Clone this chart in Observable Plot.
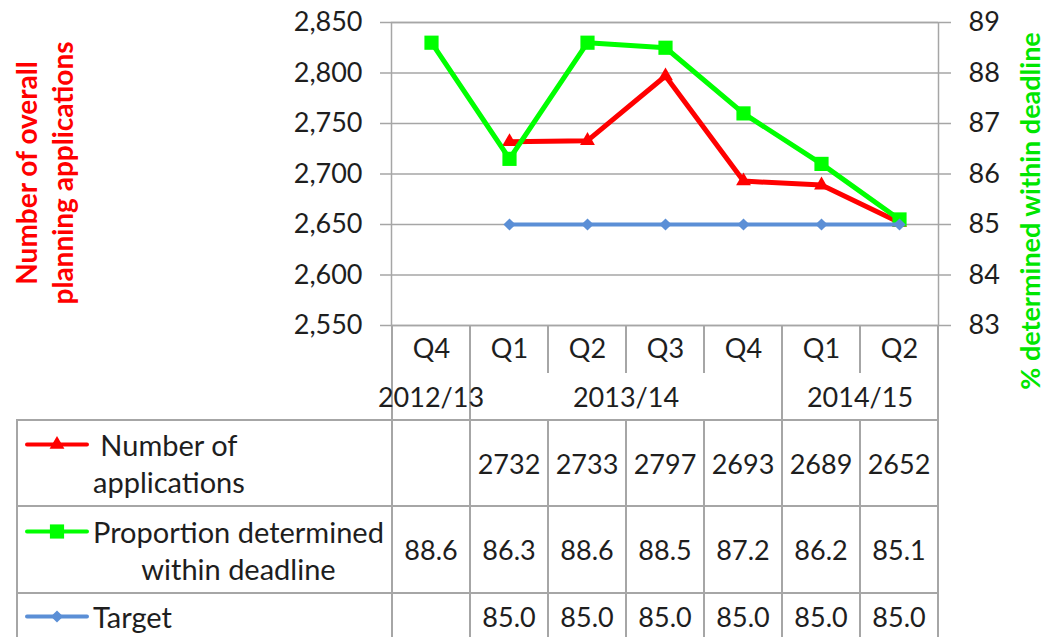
<!DOCTYPE html>
<html>
<head>
<meta charset="utf-8">
<script src="https://cdn.jsdelivr.net/npm/d3@7"></script>
<script src="https://cdn.jsdelivr.net/npm/@observablehq/plot@0.6"></script>
<style>
  body { margin: 0; background: #fff; }
  #wrap { position: relative; width: 1045px; height: 637px; overflow: hidden; font-family: Lato, sans-serif; color: #1e1e1e; }
  #wrap > svg { position: absolute; left: 0; top: 0; }
  .ln { position: absolute; background: #a6a6a6; }
  .cell { position: absolute; display: flex; align-items: center; justify-content: center; white-space: nowrap; font-size: 27px; }
  .leg { position: absolute; display: flex; align-items: center; }
  .legin { display: flex; align-items: flex-start; }
  .legtxt { font-size: 29px; line-height: 37px; text-align: center; white-space: pre; margin-left: 4px; }
</style>
</head>
<body>
<div id="wrap"></div>
<script>
// ---- data ----
const quarters = ["Q4", "Q1", "Q2", "Q3", "Q4", "Q1", "Q2"];
const years = ["2012/13", "2013/14", "2013/14", "2013/14", "2013/14", "2014/15", "2014/15"];
const applications = [null, 2732, 2733, 2797, 2693, 2689, 2652];
const proportion = [88.6, 86.3, 88.6, 88.5, 87.2, 86.2, 85.1];
const target = [null, 85.0, 85.0, 85.0, 85.0, 85.0, 85.0];
const leftTicks = [2550, 2600, 2650, 2700, 2750, 2800, 2850];
const rightTicks = [83, 84, 85, 86, 87, 88, 89];
const seriesNames = ["Number of\napplications", "Proportion determined\nwithin deadline", "Target"];
const leftTitle = "Number of overall\nplanning applications";
const rightTitle = "% determined within deadline";

// ---- styles ----
const RED = "#ff0000", GREEN = "#00ff00", GREEN_T = "#00e600", BLUE = "#5b8fd6";
const GRID = "#a6a6a6", TEXT = "#1e1e1e";

// ---- helpers ----
const ids = quarters.map((q, i) => `${years[i]} ${q}`);
const L = [leftTicks[0], leftTicks[leftTicks.length - 1]];
const R = [rightTicks[0], rightTicks[rightTicks.length - 1]];
const toL = p => L[0] + (p - R[0]) * (L[1] - L[0]) / (R[1] - R[0]);
const fromL = v => R[0] + (v - L[0]) * (R[1] - R[0]) / (L[1] - L[0]);

const rowsApp = ids.map((id, i) => ({id, v: applications[i]})).filter(d => d.v != null);
const rowsProp = ids.map((id, i) => ({id, v: proportion[i] == null ? null : toL(proportion[i])})).filter(d => d.v != null);
const rowsTarget = ids.map((id, i) => ({id, v: target[i] == null ? null : toL(target[i])})).filter(d => d.v != null);

const series = [
  {name: seriesNames[0], values: applications, fmt: d3.format("d"), color: RED, symbol: "triangle", r: 5.5},
  {name: seriesNames[1], values: proportion, fmt: d3.format(".1f"), color: GREEN, symbol: "square", r: 8},
  {name: seriesNames[2], values: target, fmt: d3.format(".1f"), color: BLUE, symbol: "diamond2", r: 5.5}
];

const plot = Plot.plot({
  width: 1045,
  height: 637,
  marginLeft: 391,
  marginRight: 107,
  marginTop: 22,
  marginBottom: 312,
  style: {fontFamily: "Lato, sans-serif", fontSize: "27px", color: TEXT, background: "transparent", overflow: "visible"},
  x: {type: "point", domain: ids, padding: 0.5},
  y: {domain: L},
  marks: [
    Plot.gridY(leftTicks, {stroke: GRID, strokeOpacity: 1, strokeWidth: 1.5}),
    Plot.frame({stroke: GRID, strokeWidth: 1.5}),
    Plot.axisY(leftTicks, {anchor: "left", tickSize: 11, tickPadding: 18, tickFormat: d3.format(","),
      stroke: GRID, strokeWidth: 1.5, fill: TEXT, fontSize: 27, label: null}),
    Plot.axisY(rightTicks.map(toL), {anchor: "right", tickSize: 12, tickPadding: 18,
      tickFormat: d => d3.format("d")(Math.round(fromL(d))),
      stroke: GRID, strokeWidth: 1.5, fill: TEXT, fontSize: 27, label: null}),
    Plot.axisX({tickSize: 0, tickPadding: 13, tickFormat: d => quarters[ids.indexOf(d)], fill: TEXT, fontSize: 27, label: null}),
    Plot.line(rowsApp, {x: "id", y: "v", stroke: RED, strokeWidth: 5}),
    Plot.dot(rowsApp, {x: "id", y: "v", symbol: "triangle", r: 5.5, fill: RED}),
    Plot.line(rowsProp, {x: "id", y: "v", stroke: GREEN, strokeWidth: 5}),
    Plot.dot(rowsProp, {x: "id", y: "v", symbol: "square", r: 8, fill: GREEN}),
    Plot.line(rowsTarget, {x: "id", y: "v", stroke: BLUE, strokeWidth: 4}),
    Plot.dot(rowsTarget, {x: "id", y: "v", symbol: "diamond2", r: 5.5, fill: BLUE}),
    Plot.text([leftTitle], {frameAnchor: "left", textAnchor: "middle", lineAnchor: "middle", rotate: -90, dx: -348, dy: -1,
      fill: RED, fontWeight: "bold", fontSize: 28, lineHeight: 1.3}),
    Plot.text([rightTitle], {frameAnchor: "right", textAnchor: "middle", lineAnchor: "middle", rotate: -90, dx: 93, dy: 37,
      fill: GREEN_T, fontWeight: "bold", fontSize: 27})
  ]
});

const wrap = document.getElementById("wrap");
wrap.appendChild(plot);

// ---- data table below the chart (positions derived from the plot's scales) ----
const xs = plot.scale("x"), ys = plot.scale("y");
const cx = ids.map(id => xs.apply(id));
const step = cx[1] - cx[0];
const edges = [cx[0] - step / 2, ...cx.map(c => c + step / 2)];
const top0 = ys.apply(L[0]);
const rowH = [48, 47, 86, 87, 46];
const rt = [top0];
rowH.forEach((h, k) => rt.push(rt[k] + h));
const tableLeft = 17;
const LW = 1.5;

function line(x, y, w, h) {
  const d = document.createElement("div");
  d.className = "ln";
  Object.assign(d.style, {left: x + "px", top: y + "px", width: w + "px", height: h + "px"});
  wrap.appendChild(d);
}
function cell(text, x, y, w, h) {
  const d = document.createElement("div");
  d.className = "cell";
  Object.assign(d.style, {left: x + "px", top: y + "px", width: w + "px", height: h + "px"});
  d.textContent = text;
  wrap.appendChild(d);
}

// vertical separators
edges.forEach((ex, e) => {
  const groupEdge = e === 0 || e === edges.length - 1 || years[e] !== years[e - 1];
  if (groupEdge) {
    line(ex - LW / 2, top0, LW, rt[5] - top0);
  } else {
    line(ex - LW / 2, top0, LW, rt[1] - top0);
    line(ex - LW / 2, rt[2], LW, rt[5] - rt[2]);
  }
});
line(tableLeft - LW / 2, rt[2], LW, rt[5] - rt[2]);
// horizontal rules
[rt[2], rt[3], rt[4], rt[5]].forEach(y => line(tableLeft - LW / 2, y - LW / 2, edges[edges.length - 1] - tableLeft + LW, LW));

// year group labels
const groups = [];
years.forEach((y, i) => {
  if (i === 0 || y !== years[i - 1]) groups.push({label: y, start: i, end: i});
  else groups[groups.length - 1].end = i;
});
groups.forEach(g => cell(g.label, edges[g.start], rt[1], edges[g.end + 1] - edges[g.start], rowH[1]));

// series rows
series.forEach((s, k) => {
  const y0 = rt[2 + k], h = rowH[2 + k];
  s.values.forEach((v, i) => {
    if (v != null) cell(s.fmt(v), edges[i], y0, step, h);
  });
  // legend entry
  const leg = document.createElement("div");
  leg.className = "leg";
  Object.assign(leg.style, {left: (tableLeft + 8) + "px", top: y0 + "px", height: h + "px"});
  const inner = document.createElement("div");
  inner.className = "legin";
  const sw = d3.create("svg").attr("width", 64).attr("height", 37);
  sw.append("line").attr("x1", 2).attr("x2", 62).attr("y1", 18.5).attr("y2", 18.5)
    .attr("stroke", s.color).attr("stroke-width", 4).attr("stroke-linecap", "round");
  const symMap = {triangle: d3.symbolTriangle, square: d3.symbolSquare, diamond2: d3.symbolDiamond2};
  sw.append("path").attr("d", d3.symbol(symMap[s.symbol], s.r * s.r * Math.PI)())
    .attr("transform", "translate(32,18.5)").attr("fill", s.color);
  inner.appendChild(sw.node());
  const t = document.createElement("div");
  t.className = "legtxt";
  t.textContent = s.name;
  inner.appendChild(t);
  leg.appendChild(inner);
  wrap.appendChild(leg);
});
</script>
</body>
</html>
